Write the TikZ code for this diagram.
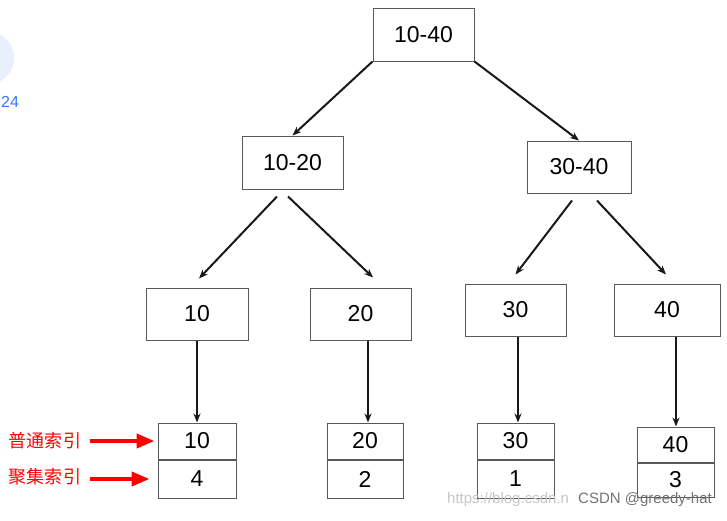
\documentclass[tikz,border=0pt]{standalone}
\usepackage{fontspec}
\setmainfont{Liberation Sans}
\newfontfamily\cjk{Noto Sans CJK SC}
\usetikzlibrary{arrows.meta}

\definecolor{uiblue}{RGB}{52,120,246}
\definecolor{uicircle}{RGB}{232,240,254}

\begin{document}
\begin{tikzpicture}[x=1pt, y=-1pt,
    box/.style={draw=black!65, line width=1pt, fill=white, inner sep=0pt,
        minimum width=101pt, minimum height=53pt, font=\fontsize{23}{23}\selectfont},
    cell/.style={box, minimum width=77pt, minimum height=36pt},
    arr/.style={-{Stealth[length=9pt, width=7pt]}, line width=2pt, black!90},
    redarr/.style={-{Triangle[length=18pt, width=14pt]}, line width=4pt, red},
    note/.style={red, font=\cjk\fontsize{18}{18}\selectfont}]

    % Page and cut-off screen edge
    \clip (0,0) rectangle (727,520);
    \fill[white] (0,0) rectangle (727,520);
    \fill[uicircle] (-13,58) circle (27);
    \node[uiblue, anchor=west, inner sep=0pt, font=\fontsize{16}{16}\selectfont] (side) at (1,102) {24};

    % Upper levels
    \node[box] (n1040) at (423.5,34.5) {10-40};
    \node[box] (n1020) at (292.5,162.5) {10-20};
    \node[box, minimum width=104pt, minimum height=52pt] (n3040) at (579,167) {30-40};

    \node[box, minimum width=102pt, minimum height=52pt] (n10) at (197,314) {10};
    \node[box, minimum height=52pt] (n20) at (360.5,314) {20};
    \node[box, minimum height=52pt] (n30) at (515.5,310) {30};
    \node[box, minimum width=106pt, minimum height=52pt] (n40) at (667,310) {40};

    % Leaves: key on top, row id below
    \node[cell, minimum width=78pt] (l10a) at (197,441) {10};
    \node[cell, minimum width=78pt, minimum height=38pt, anchor=north] (l10b) at (l10a.south) {4};
    \node[cell, minimum width=76pt] (l20a) at (365,441) {20};
    \node[cell, minimum width=76pt, minimum height=38pt, anchor=north] (l20b) at (l20a.south) {2};
    \node[cell] (l30a) at (515.5,441) {30};
    \node[cell, minimum height=38pt, anchor=north] (l30b) at (l30a.south) {1};
    \node[cell, minimum height=35pt] (l40a) at (675.5,444.5) {40};
    \node[cell, minimum height=34pt, anchor=north] (l40b) at (l40a.south) {3};

    % Arrows
    \draw[arr] (n1040.south west) -- (n1020.north);
    \draw[arr] (n1040.south east) -- (n3040.north);
    \draw[arr] ([xshift=-15.5pt, yshift=-7pt]n1020.south) -- ([xshift=2pt, yshift=9pt]n10.north);
    \draw[arr] ([xshift=-4.5pt, yshift=-7pt]n1020.south) -- ([xshift=12.5pt, yshift=10pt]n20.north);
    \draw[arr] ([xshift=-7pt, yshift=-7pt]n3040.south) -- ([yshift=9pt]n30.north);
    \draw[arr] ([xshift=18pt, yshift=-7pt]n3040.south) -- ([xshift=-1pt, yshift=9pt]n40.north);

    \draw[arr] (n10.south) -- (l10a.north);
    \draw[arr] ([xshift=7.5pt]n20.south) -- ([xshift=3pt]l20a.north);
    \draw[arr] ([xshift=2.5pt]n30.south) -- ([xshift=2.5pt]l30a.north);
    \draw[arr] ([xshift=9pt]n40.south) -- ([xshift=0.5pt]l40a.north);

    % Labels for the two rows
    \node[note] (plain) at (45,441) {普通索引};
    \node[note] (clust) at (45,477) {聚集索引};
    \draw[redarr] ([xshift=5pt]plain.east) -- ([xshift=-3pt]l10a.west);
    \draw[redarr] ([xshift=5pt]clust.east |- l10b.west) -- ([xshift=-8pt]l10b.west);

    % Watermark
    \node[black!22, anchor=west, inner sep=0pt, font=\fontsize{15}{15}\selectfont] (url) at (447,500) {https://blog.csdn.n};
    \node[black!55, anchor=west, inner sep=0pt, font=\fontsize{15}{15}\selectfont] (mark) at (578,500) {CSDN @greedy-hat};
\end{tikzpicture}
\end{document}
